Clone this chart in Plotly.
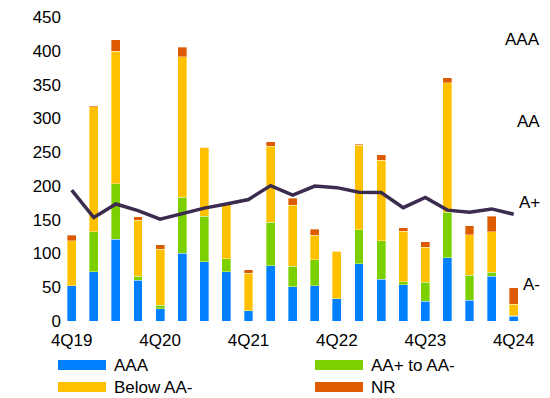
import plotly.graph_objects as go

# Quarterly issuance by rating bucket (stacked), plus average rating (right scale)
quarters = ["4Q19", "1Q20", "2Q20", "3Q20", "4Q20", "1Q21", "2Q21", "3Q21",
            "4Q21", "1Q22", "2Q22", "3Q22", "4Q22", "1Q23", "2Q23", "3Q23",
            "4Q23", "1Q24", "2Q24", "3Q24", "4Q24"]
aaa = [52, 73, 121, 60, 18, 100, 88, 73, 15, 82, 51, 52, 33, 85, 62, 54, 29, 94, 31, 66, 7]
aa_band = [0, 59, 82, 6, 5, 83, 67, 19, 0, 64, 30, 39, 0, 50, 57, 4, 28, 67, 37, 6, 1]
below_aa = [67, 185, 196, 83, 83, 208, 102, 82, 56, 113, 90, 36, 70, 125, 119, 75, 52, 192, 60, 60, 17]
nr = [8, 2, 17, 5, 7, 14, 0, 0, 5, 6, 11, 9, 1, 2, 8, 5, 8, 7, 13, 23, 24]
# average rating in notches: 1 = A-, 3 = A+, 5 = AA, 7 = AAA
avg_rating = [3.31, 2.64, 2.97, 2.81, 2.60, 2.74, 2.87, 2.97, 3.08, 3.42, 3.19,
              3.41, 3.37, 3.26, 3.25, 2.88, 3.13, 2.82, 2.77, 2.85, 2.72]

x_ticks = ["4Q19", "4Q20", "4Q21", "4Q22", "4Q23", "4Q24"]
left_ticks = list(range(0, 451, 50))
rating_vals = [1, 3, 5, 7]
rating_text = ["A-", "A+", "AA", "AAA"]

series = [
    ("AAA", aaa, "#0080FF"),
    ("AA+ to AA-", aa_band, "#7DD000"),
    ("Below AA-", below_aa, "#FFC000"),
    ("NR", nr, "#DD5A00"),
]

FONT = "Liberation Sans, Arial, sans-serif"
TXT = "#000000"
W, H = 550, 398
L, R, T, B = 62, 5, 17, 77

fig = go.Figure()
for name, vals, color in series:
    fig.add_trace(go.Bar(
        x=quarters, y=vals, name=name, showlegend=False,
        marker=dict(color=color, line=dict(color="rgba(255,255,255,0.45)", width=0.8)),
    ))

fig.add_trace(go.Scatter(
    x=quarters, y=avg_rating, yaxis="y2", mode="lines", showlegend=False,
    line=dict(color="#3B2B4F", width=3.5),
))


def px_x(p):
    return (p - L) / (W - L - R)


def px_y(p):
    return (H - B - p) / (H - T - B)


shapes, annotations = [], []

# rating scale labels, right-aligned at the right edge of the plot
for v, t in zip(rating_vals, rating_text):
    annotations.append(dict(xref="paper", yref="y2", x=px_x(542), y=v, text=t,
                            showarrow=False, xanchor="right", yanchor="middle",
                            font=dict(family=FONT, size=17, color=TXT)))

# legend drawn below the plot: wide colour swatches with labels
legend_slots = [(58, 360), (315, 360), (58, 382), (315, 382)]
for (name, _, color), (sx, sy) in zip(series, legend_slots):
    shapes.append(dict(type="rect", xref="paper", yref="paper",
                       x0=px_x(sx), x1=px_x(sx + 48), y0=px_y(sy + 10), y1=px_y(sy),
                       fillcolor=color, line=dict(width=0)))
    annotations.append(dict(xref="paper", yref="paper", x=px_x(sx + 54), y=px_y(sy + 5),
                            text=name, showarrow=False, xanchor="left", yanchor="middle",
                            font=dict(family=FONT, size=17, color=TXT)))

fig.update_layout(
    width=W, height=H,
    margin=dict(l=L, r=R, t=T, b=B),
    paper_bgcolor="white", plot_bgcolor="white",
    barmode="stack", bargap=0.6,
    font=dict(family=FONT, size=17, color=TXT),
    xaxis=dict(type="category", range=[-0.439, 21.416], tickmode="array",
               tickvals=x_ticks, ticktext=x_ticks, showgrid=False, showline=False,
               zeroline=False, ticks="", ticklabelstandoff=7,
               tickfont=dict(family=FONT, size=17, color=TXT)),
    yaxis=dict(range=[0, 450], tickvals=left_ticks, showgrid=False, showline=False,
               zeroline=False, ticks="",
               tickfont=dict(family=FONT, size=17, color=TXT)),
    yaxis2=dict(overlaying="y", side="right", range=[0.107, 7.546],
                showticklabels=False, showgrid=False, showline=False,
                zeroline=False, ticks=""),
    shapes=shapes, annotations=annotations,
)

fig.write_html("out.html")
